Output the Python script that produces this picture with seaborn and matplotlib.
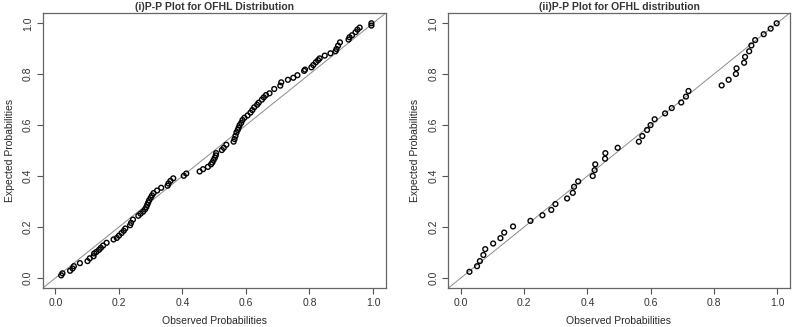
import matplotlib as mpl
mpl.use('Agg')
import matplotlib.pyplot as plt
import seaborn as sns
import pandas as pd

# panel (i): observed vs expected probabilities
obs_i = [0.018, 0.022, 0.046, 0.054, 0.058, 0.077, 0.101, 0.108, 0.120, 0.122,
         0.129, 0.137, 0.143, 0.150, 0.161, 0.183, 0.193, 0.200, 0.208, 0.215,
         0.220, 0.235, 0.238, 0.244, 0.261, 0.268, 0.276, 0.282, 0.286, 0.289,
         0.292, 0.295, 0.300, 0.304, 0.309, 0.320, 0.333, 0.353, 0.356, 0.362,
         0.371, 0.404, 0.412, 0.454, 0.465, 0.480, 0.490, 0.494, 0.498, 0.502,
         0.505, 0.506, 0.524, 0.530, 0.538, 0.561, 0.564, 0.567, 0.570, 0.574,
         0.577, 0.580, 0.585, 0.589, 0.595, 0.605, 0.614, 0.620, 0.626, 0.635,
         0.640, 0.650, 0.656, 0.663, 0.674, 0.689, 0.708, 0.711, 0.732, 0.749,
         0.762, 0.783, 0.786, 0.806, 0.812, 0.820, 0.827, 0.832, 0.848, 0.866,
         0.882, 0.885, 0.890, 0.896, 0.923, 0.926, 0.934, 0.945, 0.951, 0.958,
         0.995, 0.995]
exp_i = [0.010, 0.018, 0.028, 0.037, 0.046, 0.058, 0.066, 0.077, 0.085, 0.096,
         0.102, 0.110, 0.118, 0.127, 0.138, 0.151, 0.157, 0.166, 0.176, 0.185,
         0.194, 0.207, 0.216, 0.229, 0.244, 0.252, 0.260, 0.269, 0.278, 0.287,
         0.296, 0.305, 0.315, 0.324, 0.333, 0.343, 0.354, 0.362, 0.371, 0.381,
         0.391, 0.401, 0.410, 0.418, 0.427, 0.436, 0.446, 0.453, 0.463, 0.472,
         0.481, 0.490, 0.502, 0.511, 0.523, 0.535, 0.545, 0.558, 0.571, 0.581,
         0.590, 0.600, 0.609, 0.620, 0.629, 0.638, 0.649, 0.659, 0.670, 0.680,
         0.688, 0.700, 0.709, 0.718, 0.725, 0.742, 0.755, 0.768, 0.778, 0.786,
         0.796, 0.813, 0.818, 0.827, 0.836, 0.847, 0.855, 0.862, 0.873, 0.882,
         0.890, 0.899, 0.912, 0.925, 0.936, 0.945, 0.953, 0.965, 0.975, 0.983,
         0.991, 1.000]

# panel (ii)
obs_ii = [0.027, 0.051, 0.060, 0.071, 0.077, 0.102, 0.125, 0.137, 0.165, 0.220,
          0.258, 0.286, 0.299, 0.336, 0.354, 0.358, 0.371, 0.417, 0.423, 0.425,
          0.456, 0.457, 0.496, 0.563, 0.574, 0.589, 0.600, 0.613, 0.646, 0.667,
          0.697, 0.712, 0.720, 0.825, 0.847, 0.870, 0.872, 0.896, 0.899, 0.912,
          0.919, 0.931, 0.958, 0.980, 0.999]
exp_ii = [0.024, 0.046, 0.066, 0.090, 0.113, 0.135, 0.156, 0.178, 0.202, 0.224,
          0.246, 0.267, 0.290, 0.312, 0.334, 0.358, 0.379, 0.400, 0.423, 0.446,
          0.468, 0.490, 0.511, 0.535, 0.557, 0.581, 0.600, 0.623, 0.646, 0.667,
          0.689, 0.712, 0.734, 0.756, 0.778, 0.801, 0.823, 0.845, 0.868, 0.890,
          0.913, 0.934, 0.957, 0.979, 1.000]

titles = ['(i)P-P Plot for OFHL Distribution', '(ii)P-P Plot for OFHL distribution']
ticks = [0.0, 0.2, 0.4, 0.6, 0.8, 1.0]

sns.set_theme(style='white')
plt.rcParams['font.family'] = ['Liberation Sans', 'DejaVu Sans']
plt.rcParams['text.color'] = '#333333'

fig = plt.figure(figsize=(7.92, 3.27), dpi=100)
ax1 = fig.add_axes([0.054, 0.119, 0.433, 0.841])
ax2 = fig.add_axes([0.566, 0.119, 0.431, 0.841])

panels = [(ax1, obs_i, exp_i), (ax2, obs_ii, exp_ii)]
for (ax, xs, ys), title in zip(panels, titles):
    df = pd.DataFrame({'observed': xs, 'expected': ys})
    sns.scatterplot(data=df, x='observed', y='expected', ax=ax, marker='o',
                    s=12, facecolor='none', edgecolor='black', linewidth=1.0,
                    zorder=3)
    ax.axline((0, 0), slope=1, color='#8a8a8a', linewidth=0.7, zorder=2)
    ax.set_xlim(-0.04, 1.04)
    ax.set_ylim(-0.04, 1.04)
    ax.set_xticks(ticks)
    ax.set_yticks(ticks)
    ax.set_xticklabels(['%.1f' % t for t in ticks])
    ax.set_yticklabels(['%.1f' % t for t in ticks], rotation=90, va='center')
    ax.tick_params(direction='out', length=4, width=0.8, color='#555555',
                   labelsize=7.5, labelcolor='#333333', pad=3, bottom=True, left=True)
    for sp in ax.spines.values():
        sp.set_color('#666666')
        sp.set_linewidth(0.9)
    ax.set_xlabel('Observed Probabilities', fontsize=7.5, labelpad=6)
    ax.set_ylabel('Expected Probabilities', fontsize=7.5, labelpad=6)
    ax.set_title(title, fontsize=7.5, fontweight='bold', pad=2)

plt.savefig('out.png', dpi=100)
plt.close()
